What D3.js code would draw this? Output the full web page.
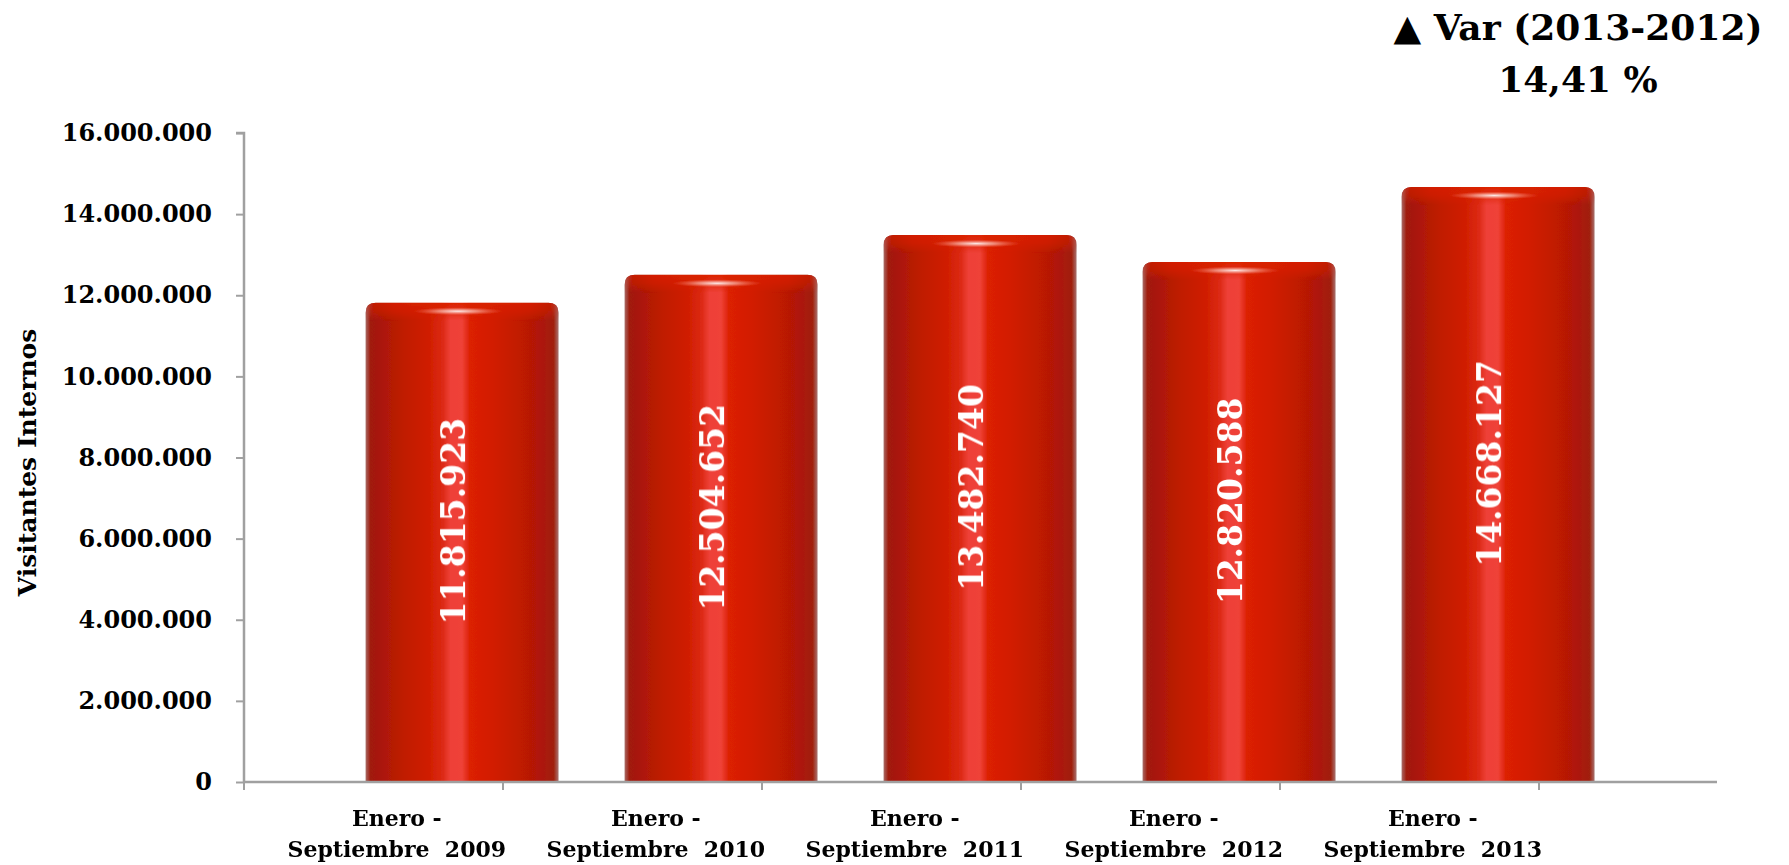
<!DOCTYPE html>
<html>
<head>
<meta charset="utf-8">
<script src="https://cdn.jsdelivr.net/npm/d3@7"></script>
<style>
  html, body { margin: 0; padding: 0; background: #ffffff; }
  svg { display: block; }
  text { font-family: "DejaVu Serif", "Liberation Serif", serif; font-weight: bold; }
</style>
</head>
<body>
<svg id="chart" width="1789" height="865"></svg>
<script>
// ---- data ----
const categoriesLine1 = ["Enero -", "Enero -", "Enero -", "Enero -", "Enero -"];
const categoriesLine2 = ["Septiembre  2009", "Septiembre  2010", "Septiembre  2011", "Septiembre  2012", "Septiembre  2013"];
const values = [11815923, 12504652, 13482740, 12820588, 14668127];
const valueLabels = ["11.815.923", "12.504.652", "13.482.740", "12.820.588", "14.668.127"];
const yTicks = [0, 2000000, 4000000, 6000000, 8000000, 10000000, 12000000, 14000000, 16000000];
const yTickLabels = ["0", "2.000.000", "4.000.000", "6.000.000", "8.000.000", "10.000.000", "12.000.000", "14.000.000", "16.000.000"];
const yTitle = "Visitantes Internos";
const varTitle = "\u25B2 Var (2013-2012)";
const varValue = "14,41 %";

// ---- layout ----
const svg = d3.select("#chart");
const plot = { left: 244, top: 133, bottom: 782, axisRight: 1717 };
const y = d3.scaleLinear().domain([0, 16000000]).range([plot.bottom, plot.top]);
const x = d3.scaleLinear().domain([0, categoriesLine2.length]).range([plot.left, 1539]);
const band = x(1) - x(0);
const barOffset = 0.842;   // bar centre within its slot (as drawn in reference)
const labelOffset = 0.59;  // category label centre within its slot
const barW = band * 0.745;
const r = 10;

// ---- defs ----
const defs = svg.append("defs");
const bodyGrad = defs.append("linearGradient").attr("id", "bodyGrad").attr("x1", 0).attr("x2", 1).attr("y1", 0).attr("y2", 0);
[[0, "#a86a64"], [0.025, "#a01a0d"], [0.08, "#aa1808"], [0.2, "#c01c04"], [0.33, "#d01e01"], [0.4, "#dc2a14"],
 [0.44, "#ee4038"], [0.5, "#ef4238"], [0.54, "#dc2004"], [0.66, "#d21d00"], [0.8, "#c01a04"], [0.92, "#ac1808"],
 [0.975, "#a0200f"], [1, "#a87470"]].forEach(([o, c]) => bodyGrad.append("stop").attr("offset", o).attr("stop-color", c));

const lidGrad = defs.append("linearGradient").attr("id", "lidGrad").attr("x1", 0).attr("x2", 1).attr("y1", 0).attr("y2", 0);
[[0, "#b05048"], [0.04, "#c41c04"], [0.15, "#d41f01"], [0.5, "#da2300"], [0.85, "#d41f01"], [0.96, "#c41c04"], [1, "#b05048"]]
  .forEach(([o, c]) => lidGrad.append("stop").attr("offset", o).attr("stop-color", c));

const lidFade = defs.append("linearGradient").attr("id", "lidFade").attr("x1", 0).attr("x2", 0).attr("y1", 0).attr("y2", 1);
[[0, "white", 0.95], [0.45, "white", 0.7], [1, "white", 0]].forEach(([o, c, a]) =>
  lidFade.append("stop").attr("offset", o).attr("stop-color", c).attr("stop-opacity", a));
defs.append("mask").attr("id", "lidMask").attr("maskContentUnits", "objectBoundingBox")
  .append("rect").attr("width", 1).attr("height", 1).attr("fill", "url(#lidFade)");

const hl = defs.append("radialGradient").attr("id", "hlGrad");
[[0, "#ffffff", 0.9], [0.45, "#ffd0c8", 0.55], [1, "#ff8070", 0]].forEach(([o, c, a]) =>
  hl.append("stop").attr("offset", o).attr("stop-color", c).attr("stop-opacity", a));

const soft = defs.append("filter").attr("id", "soft").attr("x", "-5%").attr("y", "-5%").attr("width", "110%").attr("height", "110%");
soft.append("feGaussianBlur").attr("stdDeviation", 0.7);

function topRounded(x0, x1, yt, yb, rad) {
  return `M${x0},${yb} L${x0},${yt + rad} Q${x0},${yt} ${x0 + rad},${yt} L${x1 - rad},${yt} Q${x1},${yt} ${x1},${yt + rad} L${x1},${yb} Z`;
}

// ---- axes ----
const axisColor = "#a0a0a0";
const yAxis = d3.axisLeft(y).tickValues(yTicks).tickSize(8).tickPadding(24)
  .tickFormat((d, i) => yTickLabels[i]);
const gy = svg.append("g").attr("transform", `translate(${plot.left},0)`).call(yAxis);
gy.select(".domain").attr("stroke", axisColor).attr("stroke-width", 2.5).attr("d", `M-8,${plot.top}H0V${plot.bottom}`);
gy.selectAll(".tick line").attr("stroke", axisColor).attr("stroke-width", 2);
gy.selectAll(".tick text").attr("fill", "#000").style("font-size", "24px")
  .style("font-family", "'DejaVu Serif', serif").style("font-weight", "bold");

// bars
const bars = svg.append("g").attr("class", "bars");
values.forEach((v, i) => {
  const cx = x(i + barOffset);
  const x0 = cx - barW / 2, x1 = cx + barW / 2;
  const yt = y(v), yb = y(0);
  const g = bars.append("g").attr("filter", "url(#soft)");
  g.append("path").attr("d", topRounded(x0, x1, yt, yb, r)).attr("fill", "url(#bodyGrad)");
  g.append("path").attr("d", topRounded(x0, x1, yt, yt + 18, r)).attr("fill", "url(#lidGrad)").attr("mask", "url(#lidMask)");
  g.append("ellipse").attr("cx", cx - 4).attr("cy", yt + 8.5).attr("rx", barW * 0.23).attr("ry", 4).attr("fill", "url(#hlGrad)");
});

// x axis
const xAxisG = svg.append("g");
xAxisG.append("line").attr("x1", plot.left).attr("x2", plot.axisRight).attr("y1", plot.bottom).attr("y2", plot.bottom)
  .attr("stroke", axisColor).attr("stroke-width", 2.5);
d3.range(0, categoriesLine2.length + 1).forEach(i => {
  xAxisG.append("line").attr("x1", x(i)).attr("x2", x(i)).attr("y1", plot.bottom).attr("y2", plot.bottom + 8)
    .attr("stroke", axisColor).attr("stroke-width", 2);
});
categoriesLine2.forEach((c, i) => {
  const t = xAxisG.append("text").attr("x", x(i + labelOffset)).attr("text-anchor", "middle")
    .style("font-size", "22px").attr("fill", "#000").attr("xml:space", "preserve");
  t.append("tspan").attr("x", x(i + labelOffset)).attr("y", 826).text(categoriesLine1[i]);
  t.append("tspan").attr("x", x(i + labelOffset)).attr("y", 857).text(c);
});

// value labels
values.forEach((v, i) => {
  const cx = x(i + barOffset) - 9;
  const cy = (y(v) + y(0)) / 2 - 21;
  svg.append("text").attr("transform", `translate(${cx},${cy}) rotate(-90)`)
    .attr("text-anchor", "middle").attr("dominant-baseline", "central")
    .style("font-size", "33px").attr("fill", "#ffffff").text(valueLabels[i]);
});

// y title
svg.append("text").attr("transform", `translate(27,${(plot.top + plot.bottom) / 2 + 5}) rotate(-90)`)
  .attr("text-anchor", "middle").attr("dominant-baseline", "central")
  .style("font-size", "25px").attr("fill", "#000").text(yTitle);

// variation annotation
svg.append("text").attr("x", 1578).attr("y", 40).attr("text-anchor", "middle")
  .style("font-size", "36px").attr("fill", "#000").text(varTitle);
svg.append("text").attr("x", 1578).attr("y", 92).attr("text-anchor", "middle")
  .style("font-size", "36px").attr("fill", "#000").text(varValue);
</script>
</body>
</html>
